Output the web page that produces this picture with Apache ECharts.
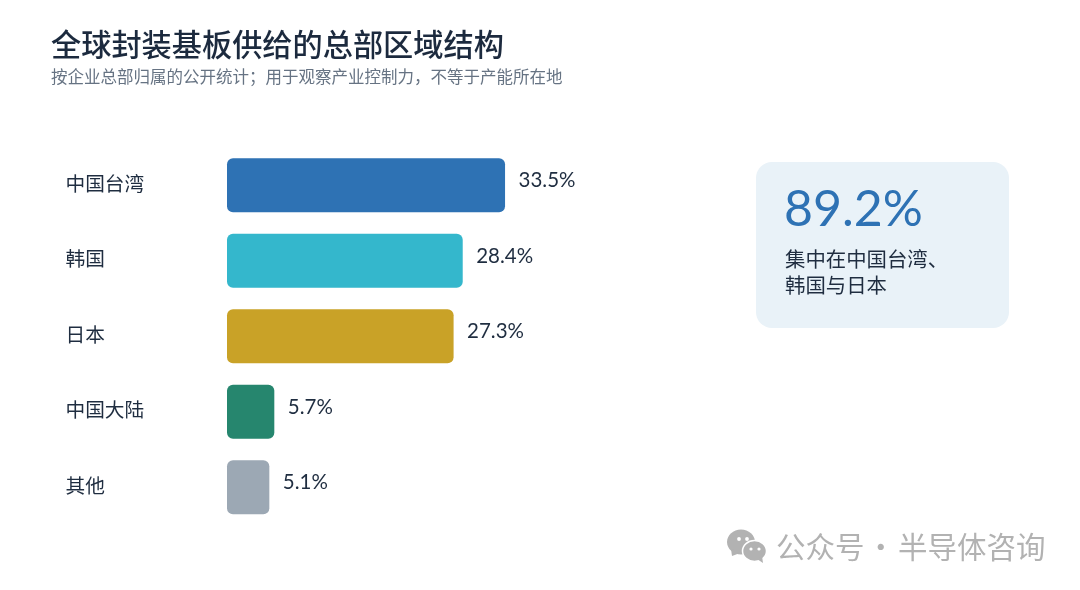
<!DOCTYPE html>
<html><head><meta charset="utf-8">
<style>html,body{margin:0;padding:0;background:#fff}#c{width:1080px;height:590px}</style>
<script src="https://cdn.jsdelivr.net/npm/echarts@6/dist/echarts.min.js"></script>
</head><body><div id="c"></div>
<script>
const categories = ['中国台湾','韩国','日本','中国大陆','其他'];
const values = [33.5,28.4,27.3,5.7,5.1];
const colors = ['#2E72B4','#34B7CC','#C9A227','#26866E','#9CA8B4'];
const titleText = '全球封装基板供给的总部区域结构';
const subtitleText = '按企业总部归属的公开统计；用于观察产业控制力，不等于产能所在地';
const kpiValue = '89.2%';
const kpiLines = '集中在中国台湾、\n韩国与日本';
const wmLeft = '公众号';
const wmDot = '·';
const wmRight = '半导体咨询';
const CJK = '"Noto Sans CJK SC"';
const NUM = 'Lato,"Noto Sans CJK SC"';
const chart = echarts.init(document.getElementById('c'), null, {renderer:'canvas'});
chart.setOption({
  animation:false,
  backgroundColor:'#fff',
  title:[
    {text:titleText,left:51,top:29,padding:0,textStyle:{fontFamily:CJK,fontSize:30.2,fontWeight:500,color:'#1C2A3E'}},
    {text:subtitleText,left:51,top:68,padding:0,textStyle:{fontFamily:CJK,fontSize:16.5,fontWeight:400,color:'#667383'}}
  ],
  grid:{left:227,top:147.5,width:332,height:377.5},
  xAxis:{type:'value',min:0,max:40,show:false},
  yAxis:{type:'category',inverse:true,data:categories,
    axisLine:{show:false},axisTick:{show:false},
    axisLabel:{align:'left',margin:161.5,fontFamily:CJK,fontSize:19.7,color:'#1F2D40',verticalAlign:'bottom',lineHeight:4}},
  series:[{type:'bar',barWidth:54,
    data:values.map((v,i)=>({value:v,itemStyle:{color:colors[i]}})),
    itemStyle:{borderRadius:6},
    label:{show:true,position:'right',distance:13.5,offset:[0,-4.5],fontFamily:NUM,fontSize:20.5,color:'#1F2D40',
      formatter:p=>p.value.toFixed(1)+'%'}}],
  graphic:[
    {type:'rect',shape:{x:756,y:162,width:253,height:166,r:16},style:{fill:'#E9F2F8'},z:1},
    {type:'text',x:784,y:185,style:{text:kpiValue,fontFamily:NUM,fontSize:50,fontWeight:400,fill:'#2E72B4'},z:2},
    {type:'text',x:785,y:246,style:{text:kpiLines,fontFamily:CJK,fontSize:20.4,lineHeight:26,fill:'#1F2D40'},z:2},
    {type:'ellipse',shape:{cx:741,cy:542,rx:14,ry:12.5},style:{fill:'#B2B2B2'},z:2},
    {type:'polygon',shape:{points:[[731,549],[732,556],[740,553]]},style:{fill:'#B2B2B2'},z:2},
    {type:'ellipse',shape:{cx:754.5,cy:551,rx:12,ry:10.5},style:{fill:'#B2B2B2',stroke:'#fff',lineWidth:1.5},z:3},
    {type:'polygon',shape:{points:[[757,559],[763,563],[762,556]]},style:{fill:'#B2B2B2'},z:3},
    {type:'circle',shape:{cx:739,cy:539,r:1.9},style:{fill:'#fff'},z:4},
    {type:'circle',shape:{cx:747,cy:539,r:1.9},style:{fill:'#fff'},z:4},
    {type:'circle',shape:{cx:751,cy:549,r:1.6},style:{fill:'#fff'},z:4},
    {type:'circle',shape:{cx:759,cy:549,r:1.6},style:{fill:'#fff'},z:4},
    {type:'text',x:776,y:532,style:{text:wmLeft,fontFamily:CJK,fontSize:29.5,fill:'#B2B2B2'},z:2},
    {type:'text',x:866,y:532,style:{text:wmDot,fontFamily:CJK,fontSize:29.5,fill:'#B2B2B2'},z:2},
    {type:'text',x:898,y:532,style:{text:wmRight,fontFamily:CJK,fontSize:29.5,fill:'#B2B2B2'},z:2}
  ]
});
</script></body></html>
